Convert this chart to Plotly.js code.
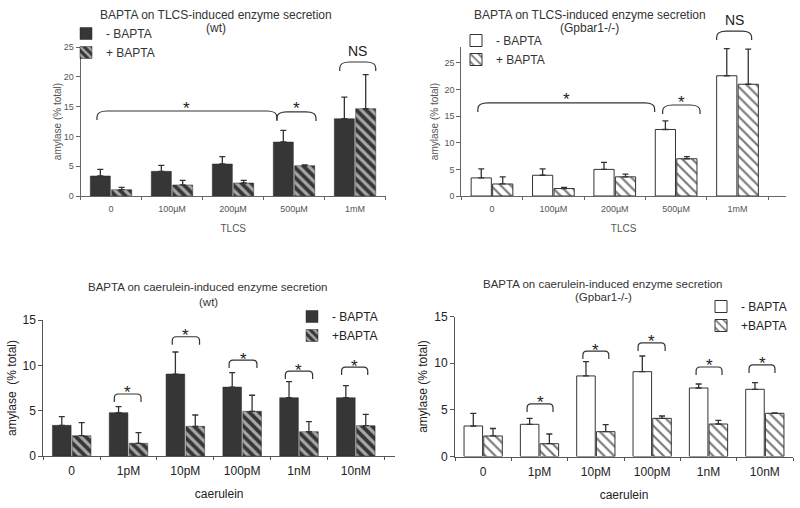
<!DOCTYPE html>
<html>
<head>
<meta charset="utf-8">
<script src="https://cdn.plot.ly/plotly-3.0.1.min.js"></script>
<style>html,body{margin:0;padding:0;background:#fff;}#chart{width:800px;height:508px;}</style>
</head>
<body>
<div id="chart"></div>
<script>
// ---------- data ----------
const tlcsCats = ['0', '100µM', '200µM', '500µM', '1mM'];
const caerCats = ['0', '1pM', '10pM', '100pM', '1nM', '10nM'];

const wtTlcsMinus = [3.36, 4.14, 5.37, 9.06, 12.97];
const wtTlcsMinusErr = [1.11, 1.01, 1.23, 1.94, 3.63];
const wtTlcsPlus = [1.06, 1.85, 2.18, 5.09, 14.65];
const wtTlcsPlusErr = [0.39, 0.78, 0.45, 0.11, 5.71];

const koTlcsMinus = [3.4, 3.9, 5.0, 12.5, 22.6];
const koTlcsMinusErr = [1.7, 1.2, 1.3, 1.6, 5.1];
const koTlcsPlus = [2.26, 1.4, 3.6, 7.0, 21.0];
const koTlcsPlusErr = [1.34, 0.2, 0.5, 0.4, 6.6];

const wtCaerMinus = [3.38, 4.78, 9.04, 7.6, 6.43, 6.43];
const wtCaerMinusErr = [0.96, 0.66, 2.43, 1.6, 1.77, 1.33];
const wtCaerPlus = [2.24, 1.40, 3.27, 4.93, 2.68, 3.35];
const wtCaerPlusErr = [1.44, 1.17, 1.25, 1.77, 1.11, 1.25];

const koCaerMinus = [3.27, 3.45, 8.63, 9.09, 7.34, 7.2];
const koCaerMinusErr = [1.36, 0.64, 1.53, 1.68, 0.43, 0.71];
const koCaerPlus = [2.2, 1.37, 2.66, 4.09, 3.48, 4.63];
const koCaerPlusErr = [0.8, 1.04, 0.75, 0.25, 0.4, 0.04];

// significance brackets (category units / data units)
const wtTlcsBrackets = [
  {x0: -0.23, x1: 2.72, y: 14.26, label: '*'},
  {x0: 2.72, x1: 3.36, y: 14.1, label: '*'},
  {x0: 3.75, x1: 4.34, y: 22.48, label: 'NS'}
];
const koTlcsBrackets = [
  {x0: -0.23, x1: 2.65, y: 17.5, label: '*'},
  {x0: 2.78, x1: 3.39, y: 17.1, label: '*'},
  {x0: 3.66, x1: 4.23, y: 31.0, label: 'NS'}
];
const wtCaerBrackets = [
  {x0: 0.75, x1: 1.22, y: 6.84, label: '*'},
  {x0: 1.77, x1: 2.25, y: 13.15, label: '*'},
  {x0: 2.77, x1: 3.26, y: 10.58, label: '*'},
  {x0: 3.76, x1: 4.24, y: 9.37, label: '*'},
  {x0: 4.75, x1: 5.21, y: 9.81, label: '*'}
];
const koCaerBrackets = [
  {x0: 0.78, x1: 1.24, y: 5.63, label: '*'},
  {x0: 1.77, x1: 2.23, y: 11.3, label: '*'},
  {x0: 2.75, x1: 3.23, y: 12.17, label: '*'},
  {x0: 3.78, x1: 4.24, y: 9.59, label: '*'},
  {x0: 4.72, x1: 5.18, y: 9.81, label: '*'}
];

// ---------- layout helpers ----------
const W = 800, H = 508;
const FONT = '"Liberation Sans", Arial, sans-serif';

const panels = [
  {id: '', cats: tlcsCats, xd: [80.5, 386], yd: [47, 196], xr: [-0.5, 4.508], yr: [0, 25],
   title: 'BAPTA on TLCS-induced enzyme secretion', sub: '(wt)', tc: 216, ty: [15, 28], tfs: 12,
   xtitle: 'TLCS', ytitle: 'amylase (% total)', tickfs: 9, titlefs: 10, txtColor: '#555',
   brackets: wtTlcsBrackets, drop: 9, rh: 10, rv: 6, starfs: 17, top: true,
   xstand: 12, ystand: 0, legend: {x: 66, y: 19}, legfs: 12},
  {id: '2', cats: tlcsCats, xd: [461.3, 786], yd: [47, 196], xr: [-0.5, 4.79], yr: [0, 28],
   title: 'BAPTA on TLCS-induced enzyme secretion', sub: '(Gpbar1-/-)', tc: 589.5, ty: [15, 28], tfs: 12,
   xtitle: 'TLCS', ytitle: 'amylase (% total)', tickfs: 9, titlefs: 10, txtColor: '#555',
   brackets: koTlcsBrackets, drop: 9, rh: 10, rv: 6, starfs: 17, top: true,
   xstand: 12, ystand: 3, legend: {x: 456, y: 26}, legfs: 12},
  {id: '3', cats: caerCats, xd: [43.3, 395], yd: [320, 456], xr: [-0.5, 5.69], yr: [0, 15],
   title: 'BAPTA on caerulein-induced enzyme secretion', sub: '(wt)', tc: 208, ty: [287, 302], tfs: 11.5,
   xtitle: 'caerulein', ytitle: 'amylase  (% total)', tickfs: 12, titlefs: 12, txtColor: '#222',
   brackets: wtCaerBrackets, drop: 8, rh: 4, rv: 4, starfs: 17, top: false,
   xstand: 12, ystand: 3, legend: {x: 292, y: 302}, legfs: 12},
  {id: '4', cats: caerCats, xd: [455, 793], yd: [316.5, 456.5], xr: [-0.5, 5.5], yr: [0, 15],
   title: 'BAPTA on caerulein-induced enzyme secretion', sub: '(Gpbar1-/-)', tc: 603, ty: [284, 297], tfs: 11.5,
   xtitle: 'caerulein', ytitle: 'amylase (% total)', tickfs: 12, titlefs: 12, txtColor: '#222',
   brackets: koCaerBrackets, drop: 8, rh: 4, rv: 4, starfs: 17, top: false,
   xstand: 12, ystand: 4, legend: {x: 701, y: 292}, legfs: 12}
];

const series = [
  {minus: wtTlcsMinus, minusErr: wtTlcsMinusErr, plus: wtTlcsPlus, plusErr: wtTlcsPlusErr, dark: true,
   names: ['- BAPTA', '+ BAPTA']},
  {minus: koTlcsMinus, minusErr: koTlcsMinusErr, plus: koTlcsPlus, plusErr: koTlcsPlusErr, dark: false,
   names: ['- BAPTA', '+ BAPTA']},
  {minus: wtCaerMinus, minusErr: wtCaerMinusErr, plus: wtCaerPlus, plusErr: wtCaerPlusErr, dark: true,
   names: ['- BAPTA', '+BAPTA']},
  {minus: koCaerMinus, minusErr: koCaerMinusErr, plus: koCaerPlus, plusErr: koCaerPlusErr, dark: false,
   names: ['- BAPTA', '+BAPTA']}
];

const traces = [];
const layout = {
  width: W, height: H,
  margin: {l: 0, r: 0, t: 0, b: 0},
  paper_bgcolor: '#fff', plot_bgcolor: 'rgba(0,0,0,0)',
  font: {family: FONT, color: '#333'},
  barmode: 'group', bargap: 0.3, bargroupgap: 0.06,
  showlegend: true,
  shapes: [], annotations: []
};

panels.forEach((p, i) => {
  const s = series[i];
  const xa = 'x' + p.id, ya = 'y' + p.id;
  const legName = i === 0 ? 'legend' : 'legend' + (i + 1);
  const zeros = s.minus.map(() => 0);
  const errColor = '#333';
  traces.push({
    type: 'bar', x: p.cats, y: s.minus, name: s.names[0], xaxis: xa, yaxis: ya, legend: legName,
    marker: s.dark ? {color: '#363636', line: {color: '#2a2a2a', width: 0.5}}
                   : {color: '#ffffff', line: {color: '#333', width: 1}},
    error_y: {type: 'data', symmetric: false, array: s.minusErr, arrayminus: zeros,
              color: errColor, thickness: 1.3, width: 3},
    hoverinfo: 'skip'
  });
  traces.push({
    type: 'bar', x: p.cats, y: s.plus, name: s.names[1], xaxis: xa, yaxis: ya, legend: legName,
    marker: s.dark
      ? {color: '#363636', line: {color: '#2a2a2a', width: 0.5},
         pattern: {shape: '\\', size: 7, solidity: 0.45, fgcolor: '#a8a8a8', bgcolor: '#363636', fillmode: 'replace'}}
      : {color: '#ffffff', line: {color: '#333', width: 1},
         pattern: {shape: '\\', size: 7, solidity: 0.3, fgcolor: '#777', bgcolor: '#ffffff', fillmode: 'replace'}},
    error_y: {type: 'data', symmetric: false, array: s.plusErr, arrayminus: zeros,
              color: errColor, thickness: 1.3, width: 3},
    hoverinfo: 'skip'
  });

  const axLineColor = p.top ? '#666' : '#555';
  layout['xaxis' + p.id] = {
    type: 'category', anchor: ya, domain: [p.xd[0] / W, p.xd[1] / W], range: p.xr,
    showline: true, linecolor: axLineColor, linewidth: 1, ticks: 'outside', tickson: 'boundaries',
    ticklen: 3, tickcolor: axLineColor, showgrid: false, zeroline: false, fixedrange: true,
    ticklabelstandoff: 4,
    tickfont: {size: p.tickfs, color: p.txtColor, family: FONT},
    title: {text: p.xtitle, font: {size: p.titlefs, color: p.txtColor, family: FONT}, standoff: p.xstand}
  };
  layout['yaxis' + p.id] = {
    anchor: xa, domain: [1 - p.yd[1] / H, 1 - p.yd[0] / H], range: p.yr,
    showline: true, linecolor: axLineColor, linewidth: 1, ticks: 'outside', ticklen: 4,
    tickcolor: axLineColor, dtick: 5, tick0: 0, showgrid: false, zeroline: false, fixedrange: true,
    tickfont: {size: p.tickfs, color: p.txtColor, family: FONT},
    title: {text: p.ytitle, font: {size: p.titlefs, color: p.txtColor, family: FONT}, standoff: p.ystand}
  };
  layout[legName] = {
    x: p.legend.x / W, y: 1 - p.legend.y / H, xanchor: 'left', yanchor: 'top',
    xref: 'paper', yref: 'paper', bgcolor: 'rgba(0,0,0,0)', borderwidth: 0,
    font: {size: p.legfs, color: p.top ? '#333' : '#222', family: FONT},
    tracegroupgap: 0, itemclick: false, itemdoubleclick: false
  };

  // titles
  layout.annotations.push({xref: 'paper', yref: 'paper', x: p.tc / W, y: 1 - p.ty[0] / H,
    xanchor: 'center', yanchor: 'middle', showarrow: false, text: p.title,
    font: {size: p.tfs, color: '#333', family: FONT}});
  layout.annotations.push({xref: 'paper', yref: 'paper', x: p.tc / W, y: 1 - p.ty[1] / H,
    xanchor: 'center', yanchor: 'middle', showarrow: false, text: p.sub,
    font: {size: p.tfs, color: '#333', family: FONT}});

  // brackets (drawn in axis-domain coordinates, converted from category/data units)
  const xLen = p.xd[1] - p.xd[0], yLen = p.yd[1] - p.yd[0];
  const fx = v => (v - p.xr[0]) / (p.xr[1] - p.xr[0]);
  const fy = v => (v - p.yr[0]) / (p.yr[1] - p.yr[0]);
  p.brackets.forEach(b => {
    const x0 = fx(b.x0), x1 = fx(b.x1), yt = fy(b.y);
    const yb = yt - p.drop / yLen;
    const rh = p.rh / xLen, rv = p.rv / yLen;
    const path = `M ${x0},${yb} L ${x0},${yt - rv} Q ${x0},${yt} ${x0 + rh},${yt} ` +
                 `L ${x1 - rh},${yt} Q ${x1},${yt} ${x1},${yt - rv} L ${x1},${yb}`;
    layout.shapes.push({type: 'path', xref: xa + ' domain', yref: ya + ' domain', path: path,
      line: {color: '#333', width: 1.2}, layer: 'above'});
    const isNS = b.label === 'NS';
    layout.annotations.push({xref: xa + ' domain', yref: ya + ' domain', x: (x0 + x1) / 2, y: yt,
      xanchor: 'center', yanchor: 'middle', showarrow: false, text: b.label,
      yshift: isNS ? 11 : (p.top ? 3 : 1),
      font: {size: isNS ? 14 : p.starfs, color: '#222', family: FONT}});
  });
});

Plotly.newPlot('chart', traces, layout, {staticPlot: true, displayModeBar: false});
</script>
</body>
</html>
